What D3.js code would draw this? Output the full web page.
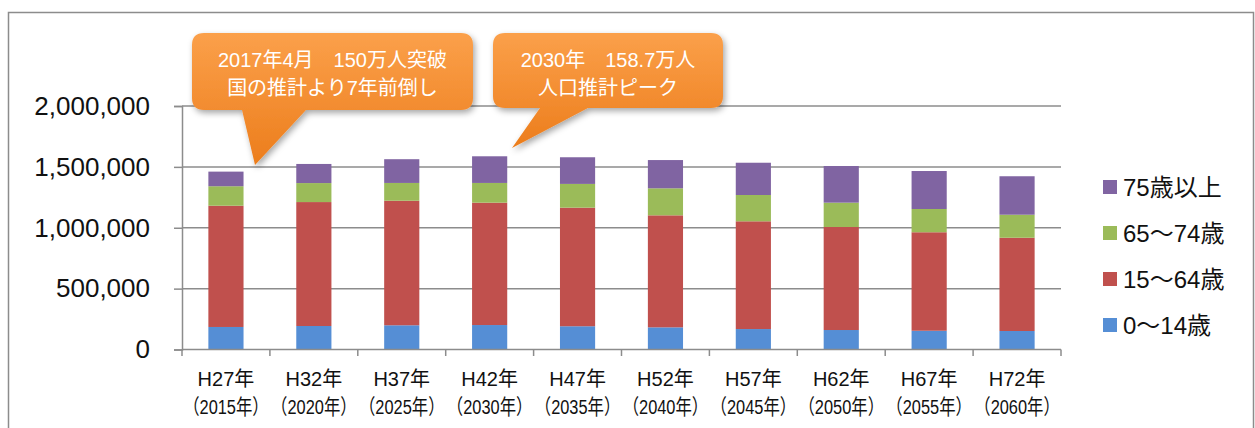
<!DOCTYPE html>
<html>
<head>
<meta charset="utf-8">
<script src="https://cdn.jsdelivr.net/npm/d3@7"></script>
<style>
  body { margin: 0; background: #fff; }
  svg text { font-family: "Liberation Sans", "Noto Sans CJK JP", sans-serif; }
</style>
</head>
<body>
<svg id="canvas"></svg>
<script>
//--data
const years = ["H27年", "H32年", "H37年", "H42年", "H47年", "H52年", "H57年", "H62年", "H67年", "H72年"];
const yearsAD = ["（2015年）", "（2020年）", "（2025年）", "（2030年）", "（2035年）", "（2040年）", "（2045年）", "（2050年）", "（2055年）", "（2060年）"];
const age0to14 = [185000, 193000, 199000, 201000, 191000, 182000, 168000, 160000, 154000, 152000];
const age15to64 = [996000, 1018000, 1023000, 1005000, 974000, 920000, 885000, 846000, 809000, 766000];
const age65to74 = [160000, 156000, 146000, 162000, 195000, 222000, 216000, 200000, 191000, 189000];
const age75plus = [120000, 157000, 195000, 219000, 219000, 232000, 265000, 301000, 312000, 316000];
const seriesNames = ["0～14歳", "15～64歳", "65～74歳", "75歳以上"];
const yTicks = [0, 500000, 1000000, 1500000, 2000000];
const callouts = [
  ["2017年4月　150万人突破", "国の推計より7年前倒し"],
  ["2030年　158.7万人", "人口推計ピーク"]
];
//--

const width = 1255, height = 428;
const colors = ["#558ED5", "#C0504D", "#9BBB59", "#8064A2"];

let canvas = d3.select("#canvas").attr("width", width).attr("height", height);

// outer frame
canvas.append("rect")
  .attr("x", 8.5).attr("y", 12.5).attr("width", 1245).attr("height", 430)
  .attr("fill", "none").attr("stroke", "#8c8c8c").attr("stroke-width", 1.5);

let x = d3.scaleBand().domain(years).range([182, 1061]).paddingInner(0.6).paddingOuter(0.3);
let y = d3.scaleLinear().domain([0, 2000000]).range([349.5, 106]);

// gridlines
canvas.append("g").selectAll("line")
  .data(yTicks.slice(1))
  .enter().append("line")
  .attr("x1", 182).attr("x2", 1061)
  .attr("y1", d => y(d)).attr("y2", d => y(d))
  .attr("stroke", "#8c8c8c").attr("stroke-width", 1.5);

// stacked bars
let table = years.map((yr, i) => ({
  year: yr,
  s0: age0to14[i], s1: age15to64[i], s2: age65to74[i], s3: age75plus[i]
}));
let stack = d3.stack().keys(["s0", "s1", "s2", "s3"])(table);

canvas.append("g").selectAll("g")
  .data(stack)
  .enter().append("g")
  .attr("fill", (d, i) => colors[i])
  .selectAll("rect")
  .data(d => d)
  .enter().append("rect")
  .attr("x", d => x(d.data.year))
  .attr("width", x.bandwidth())
  .attr("y", d => y(d[1]))
  .attr("height", d => y(d[0]) - y(d[1]));

// y axis
let yAxis = canvas.append("g")
  .attr("transform", "translate(182,0)")
  .call(d3.axisLeft(y).tickValues(yTicks).tickSize(8).tickPadding(24)
    .tickFormat(d3.format(",")));
yAxis.select(".domain").attr("stroke", "#8c8c8c").attr("stroke-width", 1.5);
yAxis.selectAll(".tick line").attr("stroke", "#8c8c8c").attr("stroke-width", 1.5);
yAxis.selectAll(".tick text").attr("font-size", 26).attr("fill", "#111");

// x axis
canvas.append("line")
  .attr("x1", 182).attr("x2", 1061).attr("y1", 349.5).attr("y2", 349.5)
  .attr("stroke", "#8c8c8c").attr("stroke-width", 1.5);
let step = x.step();
canvas.append("g").selectAll("line")
  .data(d3.range(years.length + 1))
  .enter().append("line")
  .attr("x1", i => 182 + i * step).attr("x2", i => 182 + i * step)
  .attr("y1", 349.5).attr("y2", 356)
  .attr("stroke", "#8c8c8c").attr("stroke-width", 1.5);

let xl = canvas.append("g").selectAll("g")
  .data(years)
  .enter().append("g")
  .attr("transform", d => `translate(${x(d) + x.bandwidth() / 2},0)`);
xl.append("text")
  .attr("y", 386).attr("text-anchor", "middle")
  .attr("font-size", 20).attr("fill", "#111")
  .text(d => d);
// narrow the full-width year line so neighbours do not collide
xl.append("text")
  .attr("transform", "translate(0,414) scale(0.78,1)")
  .attr("text-anchor", "middle")
  .attr("font-family", "'Noto Sans CJK JP', sans-serif")
  .attr("font-size", 21).attr("fill", "#111")
  .text((d, i) => yearsAD[i]);

// legend
let legend = canvas.append("g").selectAll("g")
  .data([3, 2, 1, 0])
  .enter().append("g")
  .attr("transform", (d, i) => `translate(1103,${187 + i * 46})`);
legend.append("rect")
  .attr("x", 0).attr("y", -7).attr("width", 14).attr("height", 14)
  .attr("fill", d => colors[d]);
legend.append("text")
  .attr("x", 20).attr("y", 9)
  .attr("font-family", "'Noto Sans CJK JP', sans-serif")
  .attr("font-size", 24).attr("fill", "#111")
  .text(d => seriesNames[d]);

// callouts
let defs = canvas.append("defs");
let grad = defs.append("linearGradient").attr("id", "orange")
  .attr("x1", 0).attr("y1", 0).attr("x2", 0).attr("y2", 1);
grad.append("stop").attr("offset", "0%").attr("stop-color", "#FBA04A");
grad.append("stop").attr("offset", "100%").attr("stop-color", "#EC7D1C");
let shadow = defs.append("filter").attr("id", "shadow")
  .attr("x", "-10%").attr("y", "-10%").attr("width", "130%").attr("height", "140%");
shadow.append("feDropShadow").attr("dx", 2).attr("dy", 3).attr("stdDeviation", 3)
  .attr("flood-color", "#000").attr("flood-opacity", 0.35);

// box: left, top, right, bottom, pointer base left, base right, tip x, tip y
let boxes = [
  [192, 33, 473, 110, 242, 306, 255, 165],
  [493, 33, 723, 108, 540, 588, 512, 148]
];
let bubble = (b) => {
  let [l, t, r, bt, p1, p2, tx, ty] = b, rr = 12;
  return `M${l + rr},${t} H${r - rr} Q${r},${t} ${r},${t + rr} V${bt - rr} Q${r},${bt} ${r - rr},${bt}` +
    ` H${p2} L${tx},${ty} L${p1},${bt} H${l + rr} Q${l},${bt} ${l},${bt - rr} V${t + rr} Q${l},${t} ${l + rr},${t} Z`;
};
let cg = canvas.append("g").selectAll("g")
  .data(callouts)
  .enter().append("g");
cg.append("path")
  .attr("d", (d, i) => bubble(boxes[i]))
  .attr("fill", "url(#orange)")
  .attr("filter", "url(#shadow)");
cg.each(function (d, i) {
  let b = boxes[i];
  let cx = (b[0] + b[2]) / 2;
  d3.select(this).selectAll("text")
    .data(d)
    .enter().append("text")
    .attr("x", cx).attr("y", (t, j) => 67 + j * 28)
    .attr("text-anchor", "middle")
    .attr("font-family", "'Noto Sans CJK JP', sans-serif")
    .attr("font-size", 20).attr("fill", "#fff")
    .text(t => t);
});
</script>
</body>
</html>
